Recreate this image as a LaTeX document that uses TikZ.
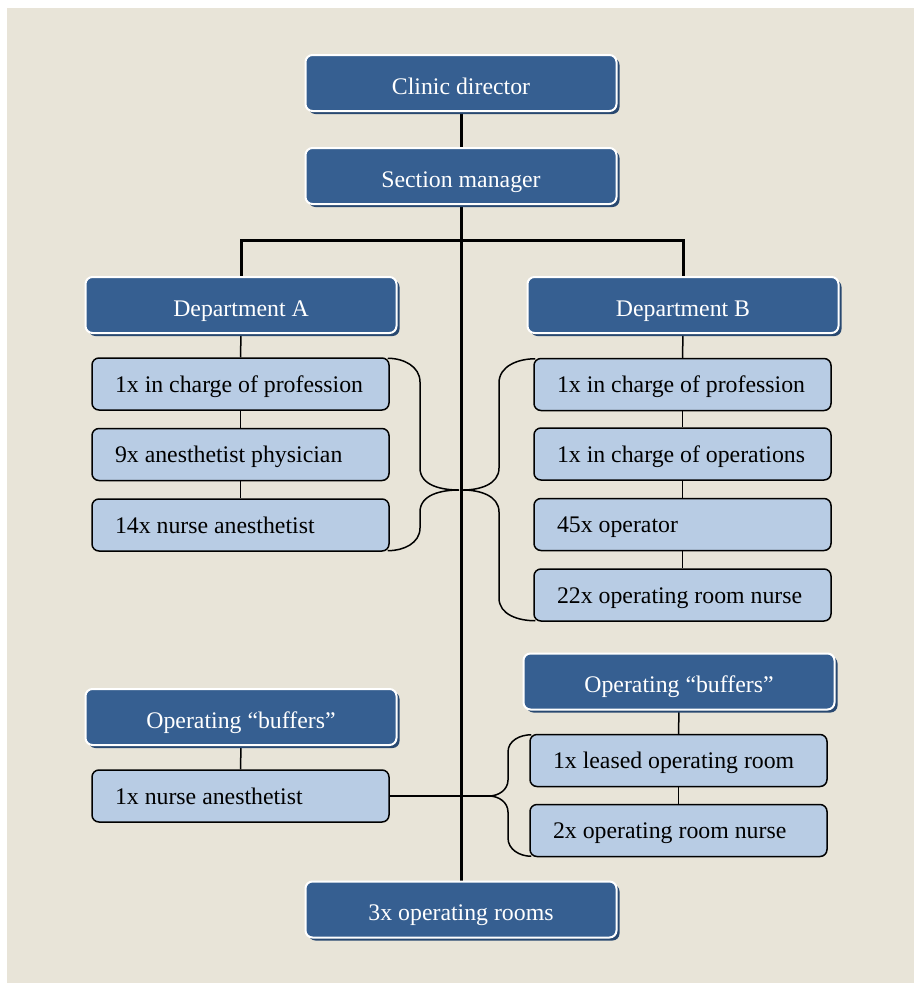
\documentclass[tikz,border=0pt]{standalone}
\usepackage{fontspec}
\setmainfont{Liberation Serif}
\usetikzlibrary{shadows}
\definecolor{pagebg}{HTML}{E8E4D8}
\definecolor{headblue}{HTML}{365F91}
\definecolor{headshade}{HTML}{284870}
\definecolor{staffblue}{HTML}{B8CCE4}
\pgfdeclarelayer{back}
\pgfdeclarelayer{links}
\pgfsetlayers{back,links,main}
% left-aligned staff label that never wraps
\newcommand\stafftext[1]{\makebox[251pt][l]{#1}}
\begin{document}
\begin{tikzpicture}[x=1pt,y=-1pt,
  headbox/.style={rectangle, rounded corners=7pt, fill=headblue, draw=white,
    line width=2pt, text=white, minimum width=311pt, minimum height=56pt,
    inner sep=0pt, text height=22pt, text depth=0pt,
    font=\fontsize{23.8}{28}\selectfont,
    drop shadow={shadow xshift=3pt, shadow yshift=-3pt, fill=headshade, opacity=1}},
  staffbox/.style={rectangle, rounded corners=7pt, fill=staffblue, draw=black,
    line width=1.5pt, inner xsep=23pt, inner ysep=0pt,
    text height=16pt, text depth=0pt,
    minimum height=52pt, minimum width=297pt, font=\fontsize{23.8}{28}\selectfont},
  mainline/.style={line width=3pt, black},
  thinline/.style={line width=1.5pt, black},
  bracket/.style={line width=1.5pt, black}]

\useasboundingbox (0,0) rectangle (914,983);
\begin{pgfonlayer}{back}
  \fill[pagebg] (7,8) rectangle (914,983);
\end{pgfonlayer}

% management chain
\node[headbox] (cd) at (461,83) {Clinic director};
\node[headbox] (sm) at (461,176) {Section manager};
\node[headbox] (dA) at (241,305) {Department A};
\node[headbox] (dB) at (683,305) {Department B};
\node[headbox] (rooms) at (461,909.5) {3x operating rooms};

% department A staff
\node[staffbox] (a1) at (240.5,384) {\stafftext{1x in charge of profession}};
\node[staffbox] (a2) at (240.5,454.5) {\stafftext{9x anesthetist physician}};
\node[staffbox] (a3) at (240.5,525) {\stafftext{14x nurse anesthetist}};

% department B staff
\node[staffbox] (b1) at (682.5,384.5) {\stafftext{1x in charge of profession}};
\node[staffbox] (b2) at (682.5,454) {\stafftext{1x in charge of operations}};
\node[staffbox] (b3) at (682.5,524.5) {\stafftext{45x operator}};
\node[staffbox] (b4) at (682.5,595) {\stafftext{22x operating room nurse}};

% buffers
\node[headbox] (bufA) at (241,717) {Operating “buffers”};
\node[staffbox] (nA) at (240.5,796) {\stafftext{1x nurse anesthetist}};
\node[headbox] (bufB) at (679,681.5) {Operating “buffers”};
\node[staffbox] (nB1) at (678.5,760.5) {\stafftext{1x leased operating room}};
\node[staffbox] (nB2) at (678.5,830.5) {\stafftext{2x operating room nurse}};

\begin{pgfonlayer}{links}
% thin links inside columns
\draw[thinline] (dA.south) -- (a1.north);
\draw[thinline] (a1.south) -- (a2.north);
\draw[thinline] (a2.south) -- (a3.north);
\draw[thinline] (dB.south) -- (b1.north);
\draw[thinline] (b1.south) -- (b2.north);
\draw[thinline] (b2.south) -- (b3.north);
\draw[thinline] (b3.south) -- (b4.north);
\draw[thinline] (bufA.south) -- (nA.north);
\draw[thinline] (bufB.south) -- (nB1.north);
\draw[thinline] (nB1.south) -- (nB2.north);

% braces gathering the staff groups
\coordinate (tipL) at (459,490);
\coordinate (tipR) at (463,490);
\coordinate (tipB) at (489,796);
\draw[bracket] ([xshift=-2pt,yshift=-1pt]a1.north east) to[out=0,in=90] (420,382)
  -- (420,468) to[out=-90,in=180] (tipL) to[out=180,in=90] (420,512)
  -- (420,528) to[out=-90,in=0] ([xshift=-2pt,yshift=1pt]a3.south east);
\draw[bracket] ([xshift=2pt,yshift=-1pt]b1.north west) to[out=180,in=90] (499,383)
  -- (499,468) to[out=-90,in=0] (tipR) to[out=0,in=90] (499,512)
  -- (499,598) to[out=-90,in=180] ([xshift=2pt,yshift=1pt]b4.south west);
\draw[bracket] ([xshift=2pt,yshift=-1pt]nB1.north west) to[out=180,in=90] (508,752)
  -- (508,780) to[out=-90,in=0] (tipB) to[out=0,in=90] (508,812)
  -- (508,838) to[out=-90,in=180] ([xshift=2pt,yshift=1pt]nB2.south west);
\draw[thinline] (nA.east) -- (tipB);

% thick hierarchy lines
\coordinate (bar) at (461,240);
\draw[mainline] (cd.south) -- (sm.north);
\draw[mainline] (sm.south) -- (rooms.north);
\draw[mainline] (dA.north) |- (bar) -| (dB.north);
\end{pgfonlayer}
\end{tikzpicture}
\end{document}
